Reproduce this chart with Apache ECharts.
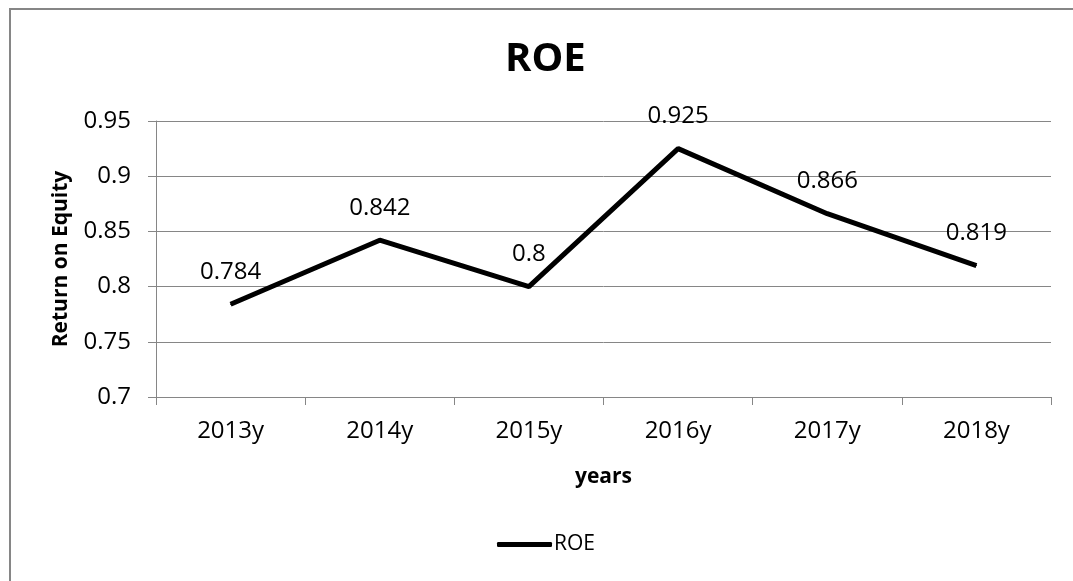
<!DOCTYPE html>
<html>
<head>
<meta charset="utf-8">
<script src="https://cdn.jsdelivr.net/npm/echarts@6/dist/echarts.min.js"></script>
<style>
  html, body { margin: 0; padding: 0; background: #fff; }
  #chart { width: 1073px; height: 581px; }
</style>
</head>
<body>
<div id="chart"></div>
<script>
const years = ['2013y', '2014y', '2015y', '2016y', '2017y', '2018y'];
const roeValues = [0.784, 0.842, 0.8, 0.925, 0.866, 0.819];
const yTicks = { min: 0.7, max: 0.95, step: 0.05 };

const gridColor = '#868686';
const font = 'Open Sans';

const chart = echarts.init(document.getElementById('chart'));

const option = {
  backgroundColor: '#fff',
  animation: false,
  graphic: [{
    type: 'rect',
    shape: { x: 10, y: 9, width: 1100, height: 620 },
    style: { fill: 'none', stroke: gridColor, lineWidth: 2 },
    silent: true
  }],
  title: {
    text: 'ROE',
    left: 500,
    top: 35,
    textStyle: {
      fontFamily: font,
      fontSize: 40,
      fontWeight: 'bold',
      color: '#000'
    }
  },
  legend: {
    data: ['ROE'],
    left: 492,
    top: 529,
    itemWidth: 55,
    itemHeight: 5,
    itemGap: 10,
    icon: 'roundRect',
    textStyle: {
      fontFamily: font,
      fontSize: 21,
      color: '#000',
      padding: [0, 0, 0, -3]
    }
  },
  grid: {
    left: 156,
    right: 22,
    top: 121,
    bottom: 184
  },
  xAxis: {
    type: 'category',
    data: years,
    boundaryGap: true,
    name: 'years',
    nameLocation: 'middle',
    nameGap: 70,
    nameTextStyle: {
      fontFamily: font,
      fontSize: 21,
      fontWeight: 'bold',
      color: '#000'
    },
    axisLine: { lineStyle: { color: gridColor, width: 1 } },
    axisTick: { show: true, length: 8, lineStyle: { color: gridColor } },
    axisLabel: {
      fontFamily: font,
      fontSize: 24,
      color: '#000',
      margin: 22
    }
  },
  yAxis: {
    type: 'value',
    min: yTicks.min,
    max: yTicks.max,
    interval: yTicks.step,
    name: 'Return on Equity',
    nameLocation: 'middle',
    nameRotate: 90,
    nameGap: 84,
    nameTextStyle: {
      fontFamily: font,
      fontSize: 21,
      fontWeight: 'bold',
      color: '#000'
    },
    axisLine: { show: true, lineStyle: { color: gridColor, width: 1 } },
    axisTick: { show: true, length: 8, lineStyle: { color: gridColor } },
    axisLabel: {
      fontFamily: font,
      fontSize: 24,
      color: '#000',
      margin: 25,
      formatter: (v) => String(parseFloat(v.toFixed(2)))
    },
    splitLine: { lineStyle: { color: gridColor, width: 1 } }
  },
  series: [{
    name: 'ROE',
    type: 'line',
    data: roeValues,
    symbol: 'circle',
    symbolSize: 1,
    showSymbol: true,
    lineStyle: { color: '#000', width: 5 },
    itemStyle: { color: '#000' },
    label: {
      show: true,
      position: 'top',
      distance: 20,
      fontFamily: font,
      fontSize: 24,
      color: '#000'
    }
  }]
};

chart.setOption(option);
</script>
</body>
</html>
